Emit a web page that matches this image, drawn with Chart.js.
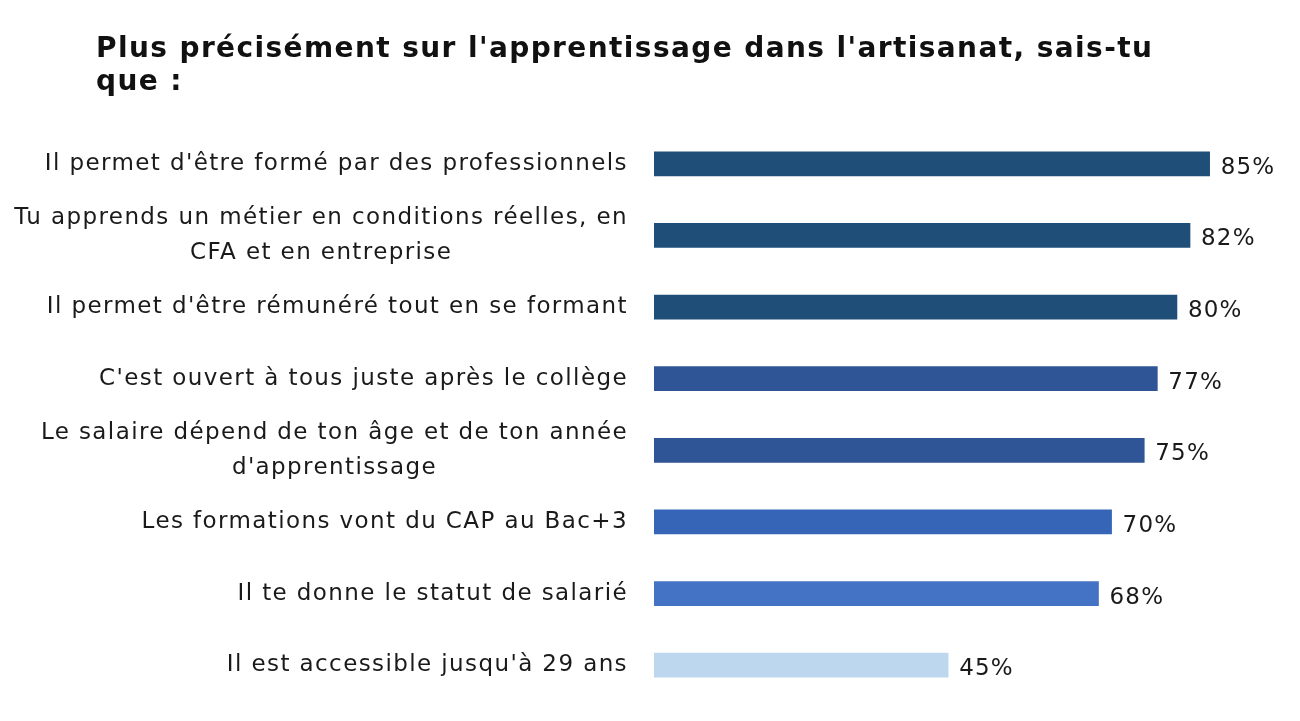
<!DOCTYPE html>
<html>
<head>
<meta charset="utf-8">
<script src="https://cdn.jsdelivr.net/npm/chart.js@4"></script>
<style>
  html, body { margin: 0; padding: 0; background: #fff; }
  #wrap { width: 1300px; height: 721px; }
</style>
</head>
<body>
<div id="wrap"><canvas id="chart"></canvas></div>
<script>
const titleLines = ["Plus précisément sur l'apprentissage dans l'artisanat, sais-tu", "que :"];
const categories = [
  ["Il permet d'être formé par des professionnels"],
  ["Tu apprends un métier en conditions réelles, en", "CFA et en entreprise"],
  ["Il permet d'être rémunéré tout en se formant"],
  ["C'est ouvert à tous juste après le collège"],
  ["Le salaire dépend de ton âge et de ton année", "d'apprentissage"],
  ["Les formations vont du CAP au Bac+3"],
  ["Il te donne le statut de salarié"],
  ["Il est accessible jusqu'à 29 ans"],
];
const values = [85, 82, 80, 77, 75, 70, 68, 45];
const barColors = ["#1f4e79", "#1f4e79", "#1f4e79", "#2f5597", "#2f5597", "#3665b8", "#4472c4", "#bdd7ee"];

const FONT = "'DejaVu Sans', sans-serif";

const textPlugin = {
  id: "textPlugin",
  afterDraw(chart) {
    const ctx = chart.ctx;
    const yScale = chart.scales.y;
    const meta = chart.getDatasetMeta(0);
    ctx.save();

    // title
    ctx.fillStyle = "#111";
    ctx.font = "bold 28px " + FONT;
    ctx.letterSpacing = "1.4px";
    ctx.textAlign = "left";
    ctx.textBaseline = "alphabetic";
    titleLines.forEach((t, i) => ctx.fillText(t, 96, 57 + i * 33));

    // category labels: block right-aligned, lines centered inside the block
    ctx.font = "23px " + FONT;
    ctx.letterSpacing = "1.4px";
    ctx.fillStyle = "#1a1a1a";
    ctx.textBaseline = "middle";
    const rightEdge = chart.chartArea.left - 26;
    categories.forEach((lines, i) => {
      const y = yScale.getPixelForValue(i);
      const widths = lines.map((l) => ctx.measureText(l).width);
      const blockW = Math.max(...widths);
      const center = rightEdge - blockW / 2;
      const lh = 35;
      lines.forEach((l, j) => {
        ctx.textAlign = "center";
        ctx.fillText(l, center, y + (j - (lines.length - 1) / 2) * lh);
      });
    });

    // value labels
    ctx.textAlign = "left";
    ctx.fillStyle = "#1a1a1a";
    ctx.letterSpacing = "1.2px";
    meta.data.forEach((bar, i) => {
      ctx.fillText(values[i] + "%", bar.x + 11, bar.y + 4);
    });
    ctx.restore();
  },
};

new Chart(document.getElementById("chart"), {
  type: "bar",
  data: {
    labels: categories,
    datasets: [
      {
        data: values,
        backgroundColor: barColors,
        barThickness: 24,
      },
    ],
  },
  options: {
    indexAxis: "y",
    responsive: true,
    maintainAspectRatio: false,
    animation: false,
    layout: { padding: { top: 128, bottom: 20, right: 25, left: 0 } },
    plugins: {
      legend: { display: false },
      tooltip: { enabled: false },
    },
    scales: {
      x: { display: false, min: 0, max: 95 },
      y: {
        grid: { display: false },
        border: { display: false },
        ticks: { display: false },
        afterFit(scale) {
          scale.width = 654;
        },
      },
    },
  },
  plugins: [textPlugin],
});
</script>
</body>
</html>
